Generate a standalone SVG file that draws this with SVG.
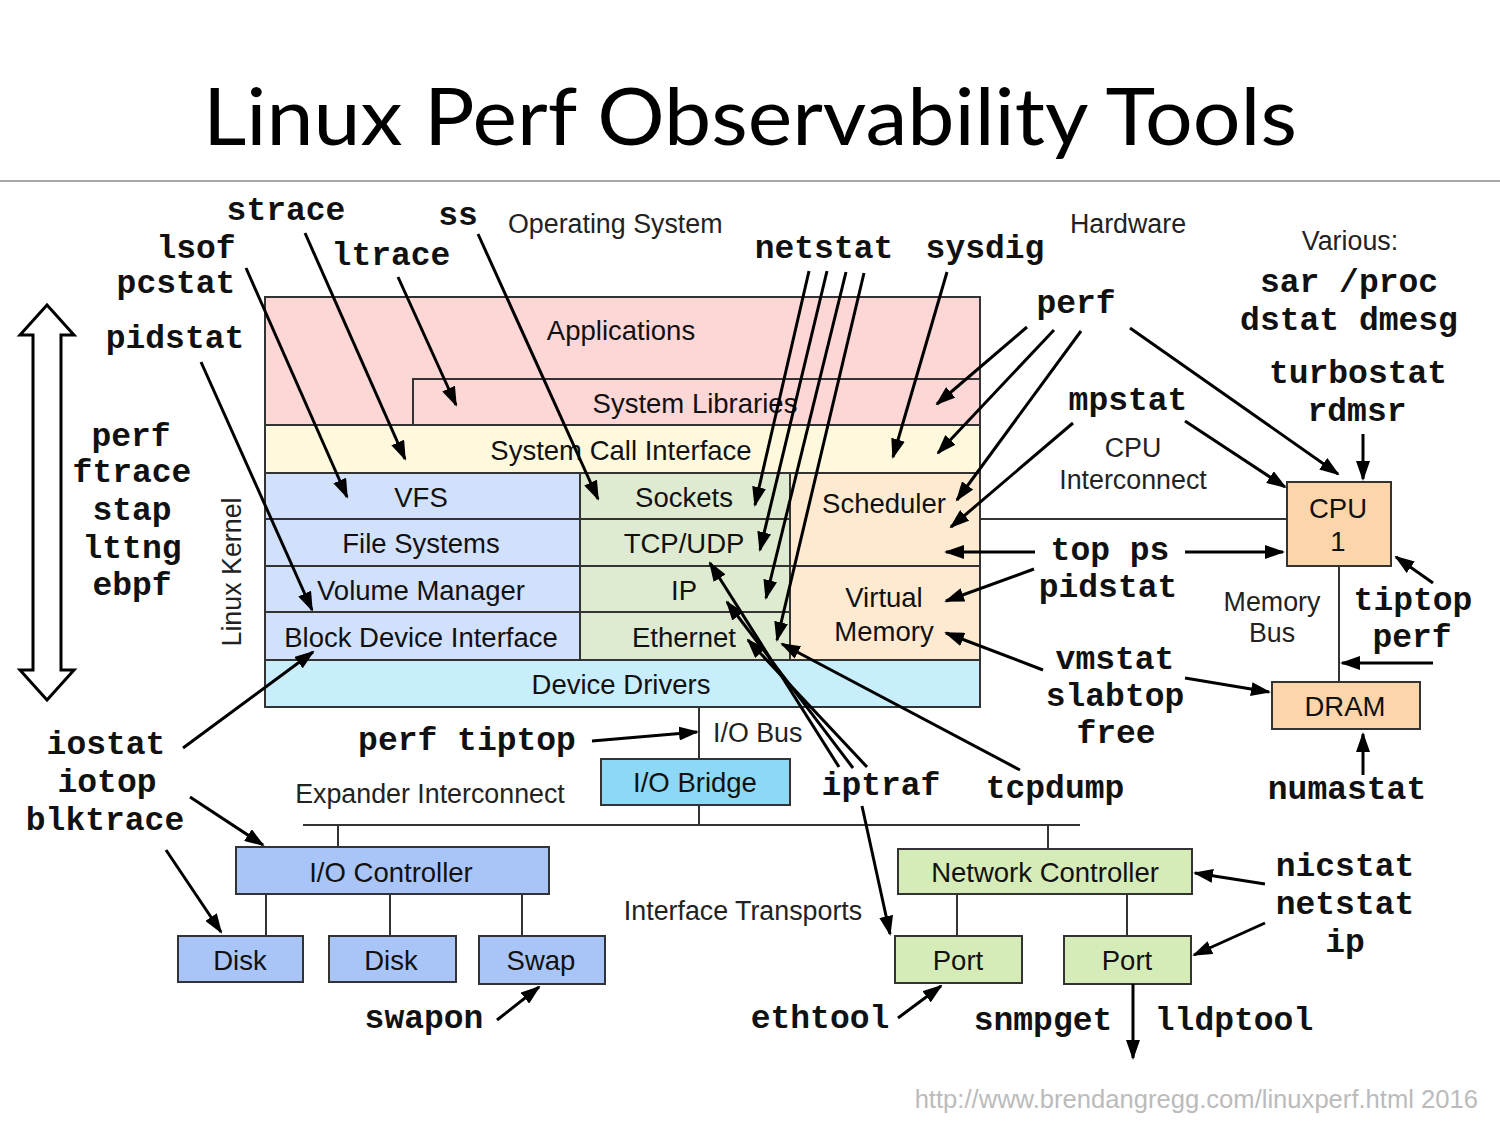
<svg xmlns="http://www.w3.org/2000/svg" width="1500" height="1125" viewBox="0 0 1500 1125">
<defs>
<marker id="ah" viewBox="0 0 20 14" refX="18" refY="7" markerWidth="20" markerHeight="14" orient="auto" markerUnits="userSpaceOnUse">
<path d="M0,0 L20,7 L0,14 z" fill="#000"/>
</marker>
<style>
.box{stroke:#333;stroke-width:2}
.lbl{font-family:"Liberation Sans",Arial,sans-serif;font-size:27.5px;fill:#111;text-anchor:middle}
.sl{font-family:"Liberation Sans",Arial,sans-serif;font-size:26.8px;fill:#222}
.tool{font-family:"Liberation Mono","Courier New",monospace;font-size:33px;font-weight:bold;fill:#111;text-anchor:middle}
.ar{stroke:#000;stroke-width:3;fill:none;marker-end:url(#ah)}
.ln{stroke:#333;stroke-width:2;fill:none}
.pink{fill:#fdd6d6}.yel{fill:#fef9dd}.blu{fill:#d1e1fb}.grn{fill:#deebd0}.pch{fill:#fdead0}.cyn{fill:#c8edfb}
.org{fill:#fcd6aa}.brg{fill:#8dd8f4}.ioc{fill:#a9c5f7}.net{fill:#d5ebb8}
</style>
</defs>
<rect width="1500" height="1125" fill="#fff"/>
<text x="750" y="145" font-family="Lato,'Open Sans',sans-serif" font-size="80" fill="#000" text-anchor="middle" textLength="1094" lengthAdjust="spacingAndGlyphs">Linux Perf Observability Tools</text>
<line x1="0" y1="181" x2="1500" y2="181" stroke="#888" stroke-width="1.5"/>

<g id="kernel-arrow">
<polygon points="47,305 74,335 61,335 61,670 74,670 47,700 20,670 33,670 33,335 20,335" fill="#fff" stroke="#000" stroke-width="3" stroke-linejoin="miter"/>
</g>
<text class="sl" transform="translate(241,572) rotate(-90)" text-anchor="middle">Linux Kernel</text>

<g id="applications"><rect class="box pink" x="265" y="297" width="715" height="128"/><text class="lbl" x="621" y="340">Applications</text></g>
<g id="system-libraries"><rect class="box pink" x="413" y="379" width="567" height="46"/><text class="lbl" x="695" y="413">System Libraries</text></g>
<g id="syscall"><rect class="box yel" x="265" y="425" width="715" height="48"/><text class="lbl" x="621" y="460">System Call Interface</text></g>
<g id="vfs"><rect class="box blu" x="265" y="473" width="315" height="46"/><text class="lbl" x="421" y="507">VFS</text></g>
<g id="filesystems"><rect class="box blu" x="265" y="519" width="315" height="47"/><text class="lbl" x="421" y="553">File Systems</text></g>
<g id="volume-manager"><rect class="box blu" x="265" y="566" width="315" height="46"/><text class="lbl" x="421" y="600">Volume Manager</text></g>
<g id="block-device"><rect class="box blu" x="265" y="612" width="315" height="48"/><text class="lbl" x="421" y="647">Block Device Interface</text></g>
<g id="sockets"><rect class="box grn" x="580" y="473" width="210" height="46"/><text class="lbl" x="684" y="507">Sockets</text></g>
<g id="tcpudp"><rect class="box grn" x="580" y="519" width="210" height="47"/><text class="lbl" x="684" y="553">TCP/UDP</text></g>
<g id="ip"><rect class="box grn" x="580" y="566" width="210" height="46"/><text class="lbl" x="684" y="600">IP</text></g>
<g id="ethernet"><rect class="box grn" x="580" y="612" width="210" height="48"/><text class="lbl" x="684" y="647">Ethernet</text></g>
<g id="scheduler"><rect class="box pch" x="790" y="473" width="190" height="93"/><text class="lbl" x="884" y="513">Scheduler</text></g>
<g id="virtual-memory"><rect class="box pch" x="790" y="566" width="190" height="94"/><text class="lbl" x="884" y="607">Virtual</text><text class="lbl" x="884" y="641">Memory</text></g>
<g id="device-drivers"><rect class="box cyn" x="265" y="660" width="715" height="47"/><text class="lbl" x="621" y="694">Device Drivers</text></g>

<g id="cpu"><rect class="box org" x="1287" y="482" width="104" height="84"/><text class="lbl" x="1338" y="518">CPU</text><text class="lbl" x="1338" y="551">1</text></g>
<g id="dram"><rect class="box org" x="1272" y="682" width="148" height="47"/><text class="lbl" x="1345" y="716">DRAM</text></g>
<g id="io-bridge"><rect class="box brg" x="601" y="759" width="189" height="46"/><text class="lbl" x="695" y="792">I/O Bridge</text></g>
<g id="io-controller"><rect class="box ioc" x="236" y="847" width="313" height="47"/><text class="lbl" x="391" y="882">I/O Controller</text></g>
<g id="disk1"><rect class="box ioc" x="178" y="936" width="125" height="46"/><text class="lbl" x="240" y="970">Disk</text></g>
<g id="disk2"><rect class="box ioc" x="329" y="936" width="127" height="46"/><text class="lbl" x="391" y="970">Disk</text></g>
<g id="swap"><rect class="box ioc" x="479" y="936" width="126" height="48"/><text class="lbl" x="541" y="970">Swap</text></g>
<g id="network-controller"><rect class="box net" x="898" y="849" width="294" height="45"/><text class="lbl" x="1045" y="882">Network Controller</text></g>
<g id="port1"><rect class="box net" x="895" y="936" width="127" height="47"/><text class="lbl" x="958" y="970">Port</text></g>
<g id="port2"><rect class="box net" x="1064" y="936" width="127" height="48"/><text class="lbl" x="1127" y="970">Port</text></g>

<g id="section-labels">
<text class="sl" x="508" y="233">Operating System</text>
<text class="sl" x="1128" y="233" text-anchor="middle">Hardware</text>
<text class="sl" x="1350" y="250" text-anchor="middle">Various:</text>
<text class="sl" x="1133" y="457" text-anchor="middle">CPU</text>
<text class="sl" x="1133" y="489" text-anchor="middle">Interconnect</text>
<text class="sl" x="1272" y="611" text-anchor="middle">Memory</text>
<text class="sl" x="1272" y="642" text-anchor="middle">Bus</text>
<text class="sl" x="713" y="742">I/O Bus</text>
<text class="sl" x="430" y="803" text-anchor="middle">Expander Interconnect</text>
<text class="sl" x="743" y="920" text-anchor="middle">Interface Transports</text>
<text class="sl" x="1478" y="1108" text-anchor="end" style="fill:#bbb;font-size:25.6px">http://www.brendangregg.com/linuxperf.html 2016</text>
</g>

<g id="tools">
<text class="tool" x="286" y="220">strace</text>
<text class="tool" x="458" y="225">ss</text>
<text class="tool" x="196" y="258">lsof</text>
<text class="tool" x="391" y="265">ltrace</text>
<text class="tool" x="176" y="293">pcstat</text>
<text class="tool" x="175" y="348">pidstat</text>
<text class="tool" x="131" y="446">perf</text>
<text class="tool" x="132" y="482">ftrace</text>
<text class="tool" x="132" y="520">stap</text>
<text class="tool" x="132" y="558">lttng</text>
<text class="tool" x="132" y="595">ebpf</text>
<text class="tool" x="824" y="258">netstat</text>
<text class="tool" x="985" y="258">sysdig</text>
<text class="tool" x="1076" y="313">perf</text>
<text class="tool" x="1128" y="410">mpstat</text>
<text class="tool" x="1110" y="560">top ps</text>
<text class="tool" x="1108" y="597">pidstat</text>
<text class="tool" x="1115" y="669">vmstat</text>
<text class="tool" x="1115" y="706">slabtop</text>
<text class="tool" x="1116" y="743">free</text>
<text class="tool" x="1055" y="798">tcpdump</text>
<text class="tool" x="881" y="795">iptraf</text>
<text class="tool" x="467" y="750">perf tiptop</text>
<text class="tool" x="106" y="754">iostat</text>
<text class="tool" x="107" y="792">iotop</text>
<text class="tool" x="105" y="830">blktrace</text>
<text class="tool" x="424" y="1028">swapon</text>
<text class="tool" x="820" y="1028">ethtool</text>
<text class="tool" x="1043" y="1030">snmpget</text>
<text class="tool" x="1234" y="1030">lldptool</text>
<text class="tool" x="1345" y="876">nicstat</text>
<text class="tool" x="1345" y="914">netstat</text>
<text class="tool" x="1345" y="952">ip</text>
<text class="tool" x="1347" y="799">numastat</text>
<text class="tool" x="1413" y="610">tiptop</text>
<text class="tool" x="1412" y="647">perf</text>
<text class="tool" x="1349" y="292">sar /proc</text>
<text class="tool" x="1349" y="330">dstat dmesg</text>
<text class="tool" x="1358" y="383">turbostat</text>
<text class="tool" x="1357" y="421">rdmsr</text>
</g>

<g id="connectors">
<line class="ln" x1="980" y1="519" x2="1287" y2="519"/>
<line class="ln" x1="1339" y1="566" x2="1339" y2="682"/>
<line class="ln" x1="699" y1="707" x2="699" y2="759"/>
<line class="ln" x1="699" y1="805" x2="699" y2="825"/>
<line class="ln" x1="303" y1="825" x2="1080" y2="825"/>
<line class="ln" x1="338" y1="825" x2="338" y2="847"/>
<line class="ln" x1="1048" y1="825" x2="1048" y2="849"/>
<line class="ln" x1="266" y1="894" x2="266" y2="936"/>
<line class="ln" x1="390" y1="894" x2="390" y2="936"/>
<line class="ln" x1="522" y1="894" x2="522" y2="936"/>
<line class="ln" x1="957" y1="894" x2="957" y2="936"/>
<line class="ln" x1="1127" y1="894" x2="1127" y2="936"/>

<line class="ar" x1="246" y1="268" x2="347" y2="497"/>
<line class="ar" x1="305" y1="233" x2="405" y2="459"/>
<line class="ar" x1="398" y1="277" x2="456" y2="405"/>
<line class="ar" x1="201" y1="362" x2="312" y2="610"/>
<line class="ar" x1="478" y1="234" x2="598" y2="499"/>
<line class="ar" x1="809" y1="271" x2="755" y2="505"/>
<line class="ar" x1="827" y1="271" x2="760" y2="550"/>
<line class="ar" x1="846" y1="272" x2="766" y2="598"/>
<line class="ar" x1="864" y1="273" x2="777" y2="640"/>
<line class="ar" x1="947" y1="272" x2="893" y2="457"/>
<line class="ar" x1="1027" y1="327" x2="937" y2="404"/>
<line class="ar" x1="1054" y1="330" x2="938" y2="453"/>
<line class="ar" x1="1081" y1="331" x2="957" y2="500"/>
<line class="ar" x1="1130" y1="328" x2="1338" y2="474"/>
<line class="ar" x1="1073" y1="423" x2="951" y2="527"/>
<line class="ar" x1="1185" y1="421" x2="1285" y2="487"/>
<line class="ar" x1="1363" y1="434" x2="1363" y2="479"/>
<line class="ar" x1="1035" y1="552" x2="946" y2="552"/>
<line class="ar" x1="1185" y1="552" x2="1283" y2="552"/>
<line class="ar" x1="1034" y1="569" x2="946" y2="601"/>
<line class="ar" x1="1043" y1="670" x2="946" y2="633"/>
<line class="ar" x1="1185" y1="678" x2="1269" y2="692"/>
<line class="ar" x1="1433" y1="583" x2="1396" y2="557"/>
<line class="ar" x1="1433" y1="663" x2="1342" y2="663"/>
<line class="ar" x1="1363" y1="775" x2="1363" y2="734"/>
<line class="ar" x1="1020" y1="770" x2="782" y2="644"/>
<line class="ar" x1="839" y1="767" x2="710" y2="563"/>
<line class="ar" x1="853" y1="768" x2="727" y2="602"/>
<line class="ar" x1="867" y1="767" x2="748" y2="640"/>
<line class="ar" x1="862" y1="806" x2="890" y2="934"/>
<line class="ar" x1="898" y1="1018" x2="941" y2="986"/>
<line class="ar" x1="1265" y1="884" x2="1195" y2="873"/>
<line class="ar" x1="1265" y1="923" x2="1194" y2="955"/>
<line class="ar" x1="183" y1="748" x2="313" y2="652"/>
<line class="ar" x1="190" y1="797" x2="263" y2="845"/>
<line class="ar" x1="166" y1="850" x2="221" y2="932"/>
<line class="ar" x1="497" y1="1020" x2="539" y2="987"/>
<line class="ar" x1="592" y1="741" x2="697" y2="732"/>
<line class="ar" x1="1133" y1="984" x2="1133" y2="1058"/>
</g>
</svg>
